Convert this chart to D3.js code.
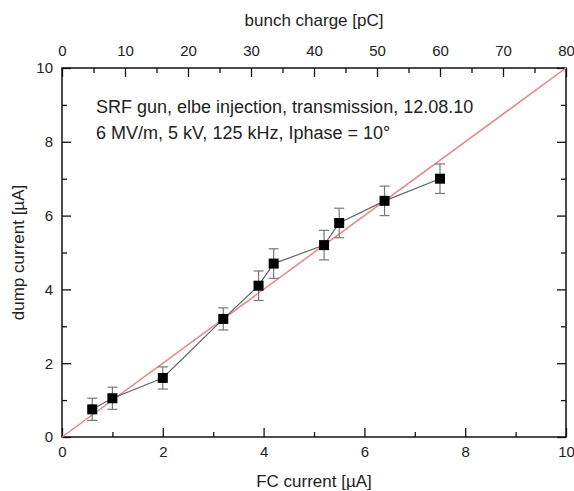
<!DOCTYPE html>
<html>
<head>
<meta charset="utf-8">
<script src="https://cdn.jsdelivr.net/npm/d3@7"></script>
<style>
  body { margin: 0; background: #fff; }
  text { font-family: "Liberation Sans", Arial, sans-serif; fill: #222; }
</style>
</head>
<body>
<div id="chart"></div>
<script>
// FC current [uA], dump current [uA], error [uA]
const fcCurrent = [0.6, 1.0, 2.0, 3.2, 3.9, 4.2, 5.2, 5.5, 6.4, 7.5];
const dumpCurrent = [0.75, 1.05, 1.6, 3.2, 4.1, 4.7, 5.2, 5.8, 6.4, 7.0];
const dumpError = [0.3, 0.3, 0.3, 0.3, 0.4, 0.4, 0.4, 0.4, 0.4, 0.4];
const xTicks = [0, 2, 4, 6, 8, 10];
const yTicks = [0, 2, 4, 6, 8, 10];
const topTicks = [0, 10, 20, 30, 40, 50, 60, 70, 80];
const infoLines = [
  "SRF gun, elbe injection, transmission, 12.08.10",
  "6 MV/m, 5 kV, 125 kHz, Iphase = 10°"
];

const width = 574, height = 491;
const margin = { top: 68, right: 8, bottom: 54, left: 62 };
const w = width - margin.left - margin.right;
const h = height - margin.top - margin.bottom;

const svg = d3.select("#chart").append("svg")
  .attr("width", width).attr("height", height);
const g = svg.append("g").attr("transform", `translate(${margin.left},${margin.top})`);

const x = d3.scaleLinear().domain([0, 10]).range([0, w]);
const y = d3.scaleLinear().domain([0, 10]).range([h, 0]);
const xTop = d3.scaleLinear().domain([0, 80]).range([0, w]);

const data = fcCurrent.map((d, i) => ({ x: d, y: dumpCurrent[i], e: dumpError[i] }));

// axes with inward ticks
function styleAxis(sel) {
  sel.select(".domain").remove();
  sel.selectAll("line").attr("stroke", "#111").attr("stroke-width", 1.3);
  sel.selectAll("text").style("font-size", "15px").attr("fill", "#222");
}

// minor ticks
g.append("g").attr("transform", `translate(0,${h})`)
  .call(d3.axisBottom(x).tickValues(d3.range(1, 10, 2)).tickSize(-5).tickFormat(""))
  .call(styleAxis);
g.append("g")
  .call(d3.axisLeft(y).tickValues(d3.range(1, 10, 2)).tickSize(-5).tickFormat(""))
  .call(styleAxis);
g.append("g").attr("transform", `translate(${w},0)`)
  .call(d3.axisRight(y).tickValues(d3.range(1, 10, 2)).tickSize(-5).tickFormat(""))
  .call(styleAxis);
g.append("g")
  .call(d3.axisTop(xTop).tickValues(d3.range(5, 80, 10)).tickSize(-5).tickFormat(""))
  .call(styleAxis);

// major ticks
g.append("g").attr("transform", `translate(0,${h})`)
  .call(d3.axisBottom(x).tickValues(xTicks).tickSize(-9).tickPadding(9).tickFormat(d3.format("d")))
  .call(styleAxis);
g.append("g")
  .call(d3.axisLeft(y).tickValues(yTicks).tickSize(-9).tickPadding(9).tickFormat(d3.format("d")))
  .call(styleAxis);
g.append("g").attr("transform", `translate(${w},0)`)
  .call(d3.axisRight(y).tickValues(yTicks).tickSize(-9).tickFormat(""))
  .call(styleAxis);
g.append("g")
  .call(d3.axisTop(xTop).tickValues(topTicks).tickSize(-9).tickPadding(12).tickFormat(d3.format("d")))
  .call(styleAxis);

// frame
g.append("rect").attr("width", w).attr("height", h)
  .attr("fill", "none").attr("stroke", "#111").attr("stroke-width", 1.5);

// axis titles
svg.append("text").attr("x", margin.left + w / 2).attr("y", 26)
  .attr("text-anchor", "middle").style("font-size", "17px").text("bunch charge [pC]");
svg.append("text").attr("x", margin.left + w / 2).attr("y", 487)
  .attr("text-anchor", "middle").style("font-size", "17px").text("FC current [µA]");
svg.append("text").attr("transform", `translate(24,${margin.top + h / 2}) rotate(-90)`)
  .attr("text-anchor", "middle").style("font-size", "17px").text("dump current [µA]");

// y = x reference line
g.append("line")
  .attr("x1", x(0)).attr("y1", y(0)).attr("x2", x(10)).attr("y2", y(10))
  .attr("stroke", "#e88585").attr("stroke-width", 1.5);

// connecting line
g.append("path").datum(data)
  .attr("fill", "none").attr("stroke", "#5a6a66").attr("stroke-width", 1.2)
  .attr("d", d3.line().x(d => x(d.x)).y(d => y(d.y)));

// error bars
const capW = 5;
const eb = g.selectAll("g.err").data(data).join("g").attr("class", "err")
  .attr("stroke", "#777").attr("stroke-width", 1.2);
eb.append("line")
  .attr("x1", d => x(d.x)).attr("x2", d => x(d.x))
  .attr("y1", d => y(d.y - d.e)).attr("y2", d => y(d.y + d.e));
eb.append("line")
  .attr("x1", d => x(d.x) - capW).attr("x2", d => x(d.x) + capW)
  .attr("y1", d => y(d.y + d.e)).attr("y2", d => y(d.y + d.e));
eb.append("line")
  .attr("x1", d => x(d.x) - capW).attr("x2", d => x(d.x) + capW)
  .attr("y1", d => y(d.y - d.e)).attr("y2", d => y(d.y - d.e));

// markers
const sz = 10;
g.selectAll("rect.pt").data(data).join("rect").attr("class", "pt")
  .attr("x", d => x(d.x) - sz / 2).attr("y", d => y(d.y) - sz / 2)
  .attr("width", sz).attr("height", sz).attr("fill", "#000");

// info text
g.selectAll("text.info").data(infoLines).join("text").attr("class", "info")
  .attr("x", 34).attr("y", (d, i) => 45 + i * 26)
  .style("font-size", "18px").text(d => d);
</script>
</body>
</html>
